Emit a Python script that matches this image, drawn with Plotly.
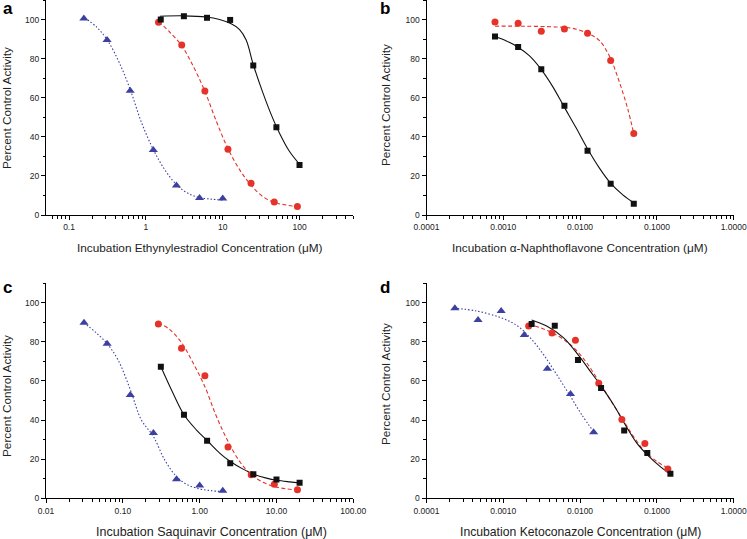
import plotly.graph_objects as go

# ---------------- Panel a: Ethynylestradiol ----------------
a_sq_x = [1.5625, 3.125, 6.25, 12.5, 25, 50, 100]
a_sq_y = [100.0, 101.7, 100.9, 99.8, 76.5, 44.9, 25.6]
a_ci_x = [1.46, 2.93, 5.86, 11.7, 23.4, 46.9, 93.8]
a_ci_y = [98.6, 87.0, 63.5, 33.6, 16.3, 6.7, 4.3]
a_tr_x = [0.156, 0.3125, 0.625, 1.25, 2.5, 5, 10]
a_tr_y = [100.5, 89.5, 63.6, 33.3, 15.1, 8.7, 8.4]
a_fit_sq_x = [1.52, 3.05, 6.12, 9.1, 12.9, 16.6, 20.2, 25.2, 33.3, 42.7, 54.7, 73.8, 99.4]
a_fit_sq_y = [101.7, 101.9, 101.3, 100.0, 97.8, 94.9, 89.5, 76.5, 62.6, 51.5, 42.0, 32.6, 26.1]
a_fit_ci_x = [1.47, 2.05, 2.93, 4.11, 5.83, 8.25, 11.6, 16.6, 23.2, 33.3, 46.2, 66.8, 92.7]
a_fit_ci_y = [99.0, 93.5, 86.6, 76.3, 63.5, 48.0, 34.3, 23.2, 15.4, 9.4, 6.5, 5.1, 4.3]
a_fit_tr_x = [0.16, 0.229, 0.315, 0.46, 0.633, 0.879, 1.257, 1.76, 2.52, 3.54, 5.02, 7.11, 10.07]
a_fit_tr_y = [100.9, 96.1, 89.5, 77.2, 63.6, 47.2, 33.3, 23.2, 15.4, 11.1, 8.9, 8.1, 7.7]
a_tickvals = [0.1, 1, 10, 100]
a_ticktext = ["0.1", "1", "10", "100"]

# ---------------- Panel b: alpha-Naphthoflavone ----------------
b_sq_x = [0.00078, 0.00156, 0.003125, 0.00625, 0.0125, 0.025, 0.05]
b_sq_y = [91.3, 85.9, 74.6, 55.9, 32.9, 16.0, 5.8]
b_ci_x = [0.00078, 0.00156, 0.003125, 0.00625, 0.0125, 0.025, 0.05]
b_ci_y = [98.8, 98.1, 94.0, 95.2, 93.0, 79.1, 41.7]
b_fit_sq_x = [0.00078, 0.00108, 0.00152, 0.00218, 0.00304, 0.0044, 0.00612, 0.00887, 0.01233, 0.01786, 0.0246, 0.036, 0.0497]
b_fit_sq_y = [91.3, 89.2, 86.1, 81.5, 75.0, 65.7, 55.7, 44.6, 34.3, 24.0, 16.6, 10.3, 6.3]
b_fit_ci_x = [0.00078, 0.00179, 0.00487, 0.008, 0.0132, 0.0179, 0.0246, 0.0326, 0.0419, 0.0497]
b_fit_ci_y = [96.6, 96.6, 96.2, 95.5, 92.6, 89.2, 80.6, 67.8, 54.0, 42.0]
b_tickvals = [0.0001, 0.001, 0.01, 0.1, 1]
b_ticktext = ["0.0001", "0.0010", "0.0100", "0.1000", "1.0000"]

# ---------------- Panel c: Saquinavir ----------------
c_tr_x = [0.03125, 0.0625, 0.125, 0.25, 0.5, 1, 2]
c_tr_y = [89.7, 79.0, 52.8, 33.3, 9.7, 6.5, 3.8]
c_ci_x = [0.29, 0.58, 1.17, 2.34, 4.69, 9.38, 18.75]
c_ci_y = [89.1, 76.6, 62.6, 26.2, 12.0, 7.2, 4.4]
c_sq_x = [0.3125, 0.625, 1.25, 2.5, 5, 10, 20]
c_sq_y = [67.2, 42.7, 29.4, 17.9, 12.3, 9.6, 7.9]
c_fit_tr_x = [0.031, 0.0449, 0.0625, 0.0861, 0.125, 0.1734, 0.25, 0.35, 0.5, 0.705, 1.0, 1.42, 2.0]
c_fit_tr_y = [89.7, 84.6, 79.0, 70.9, 55.6, 40.2, 31.6, 19.7, 11.1, 6.8, 4.8, 3.9, 3.4]
c_fit_ci_x = [0.289, 0.406, 0.582, 0.819, 1.162, 1.65, 2.34, 3.32, 4.72, 6.70, 9.42, 13.5, 18.8]
c_fit_ci_y = [89.7, 86.3, 79.5, 69.2, 57.3, 41.9, 29.1, 18.8, 12.0, 8.2, 6.0, 4.8, 4.3]
c_fit_sq_x = [0.313, 0.449, 0.625, 0.905, 1.26, 1.82, 2.51, 3.68, 5.06, 7.41, 10.1, 14.9, 20.1]
c_fit_sq_y = [67.2, 53.8, 42.7, 35.0, 29.4, 23.1, 18.8, 14.9, 12.3, 10.3, 9.2, 8.4, 7.9]
c_tickvals = [0.01, 0.1, 1, 10, 100]
c_ticktext = ["0.01", "0.10", "1.00", "10.00", "100.00"]

# ---------------- Panel d: Ketoconazole ----------------
d_tr_x = [0.000234, 0.000469, 0.000938, 0.001875, 0.00375, 0.0075, 0.015]
d_tr_y = [97.1, 91.1, 95.7, 83.4, 66.2, 53.3, 33.7]
d_ci_x = [0.00214, 0.00431, 0.00869, 0.0175, 0.035, 0.0697, 0.139]
d_ci_y = [88.0, 84.4, 80.7, 58.8, 40.3, 28.0, 15.0]
d_sq_x = [0.00234, 0.00468, 0.00938, 0.01875, 0.0375, 0.075, 0.15]
d_sq_y = [89.1, 88.2, 70.6, 56.4, 34.7, 23.1, 12.6]
d_fit_tr_x = [0.000227, 0.000449, 0.000923, 0.00149, 0.00223, 0.00333, 0.00496, 0.00748, 0.0105, 0.0149]
d_fit_tr_y = [97.1, 95.7, 92.3, 88.4, 82.1, 73.5, 63.2, 52.1, 42.7, 34.2]
d_fit_sq_x = [0.00234, 0.00367, 0.00606, 0.00933, 0.0135, 0.0188, 0.0272, 0.0375, 0.0548, 0.075, 0.1106, 0.149]
d_fit_sq_y = [91.1, 88.0, 82.1, 73.5, 65.0, 57.3, 47.9, 38.5, 28.2, 22.2, 16.2, 12.3]
d_fit_ci_x = [0.00214, 0.003, 0.00431, 0.00606, 0.00869, 0.0122, 0.0175, 0.0246, 0.035, 0.0496, 0.0697, 0.1, 0.139]
d_fit_ci_y = [88.9, 87.2, 84.6, 81.2, 76.1, 69.2, 59.8, 50.4, 41.0, 31.6, 23.9, 18.8, 15.4]
d_tickvals = [0.0001, 0.001, 0.01, 0.1, 1]
d_ticktext = ["0.0001", "0.0010", "0.0100", "0.1000", "1.0000"]

y_tickvals = [0, 20, 40, 60, 80, 100]
y_ticktext = ["0", "20", "40", "60", "80", "100"]

x_titles = [
    "Incubation Ethynylestradiol Concentration (μM)",
    "Incubation α-Naphthoflavone Concentration (μM)",
    "Incubation Saquinavir Concentration (μM)",
    "Incubation Ketoconazole Concentration (μM)",
]
y_title = "Percent Control Activity"
panel_letters = ["a", "b", "c", "d"]

BLACK = "#111111"
RED = "#e5332a"
BLUE = "#3c40a0"
FONT = "Liberation Sans, Arial, sans-serif"
W, H = 747, 539

fig = go.Figure()

def add_fit(x, y, color, dash, ax):
    fig.add_trace(go.Scatter(x=x, y=y, mode="lines", line=dict(color=color, width=1.1, dash=dash, shape="spline", smoothing=1.0),
                             xaxis="x" + ax, yaxis="y" + ax, hoverinfo="skip", showlegend=False))

def add_pts(x, y, color, symbol, size, ax):
    fig.add_trace(go.Scatter(x=x, y=y, mode="markers", marker=dict(color=color, symbol=symbol, size=size, line=dict(width=0)),
                             xaxis="x" + ax, yaxis="y" + ax, showlegend=False))

DASH_RED = "4px,2.5px"
DOT_BLUE = "1.5px,2px"

# a
add_fit(a_fit_tr_x, a_fit_tr_y, BLUE, DOT_BLUE, "")
add_fit(a_fit_ci_x, a_fit_ci_y, RED, DASH_RED, "")
add_fit(a_fit_sq_x, a_fit_sq_y, BLACK, "solid", "")
add_pts(a_tr_x, a_tr_y, BLUE, "triangle-up", 8, "")
add_pts(a_ci_x, a_ci_y, RED, "circle", 7, "")
add_pts(a_sq_x, a_sq_y, BLACK, "square", 6, "")
# b
add_fit(b_fit_ci_x, b_fit_ci_y, RED, DASH_RED, "2")
add_fit(b_fit_sq_x, b_fit_sq_y, BLACK, "solid", "2")
add_pts(b_ci_x, b_ci_y, RED, "circle", 7, "2")
add_pts(b_sq_x, b_sq_y, BLACK, "square", 6, "2")
# c
add_fit(c_fit_tr_x, c_fit_tr_y, BLUE, DOT_BLUE, "3")
add_fit(c_fit_ci_x, c_fit_ci_y, RED, DASH_RED, "3")
add_fit(c_fit_sq_x, c_fit_sq_y, BLACK, "solid", "3")
add_pts(c_tr_x, c_tr_y, BLUE, "triangle-up", 8, "3")
add_pts(c_ci_x, c_ci_y, RED, "circle", 7, "3")
add_pts(c_sq_x, c_sq_y, BLACK, "square", 6, "3")
# d
add_fit(d_fit_tr_x, d_fit_tr_y, BLUE, DOT_BLUE, "4")
add_fit(d_fit_ci_x, d_fit_ci_y, RED, DASH_RED, "4")
add_fit(d_fit_sq_x, d_fit_sq_y, BLACK, "solid", "4")
add_pts(d_tr_x, d_tr_y, BLUE, "triangle-up", 8, "4")
add_pts(d_ci_x, d_ci_y, RED, "circle", 7, "4")
add_pts(d_sq_x, d_sq_y, BLACK, "square", 6, "4")

minor_log = [m * 10 ** e for e in range(-5, 4) for m in range(2, 10)]
tickfont = dict(family=FONT, size=8.5, color="#222")

def xaxis(rng, tv, tt, px0, px1, anchor):
    return dict(type="log", range=rng, domain=[px0 / W, px1 / W], anchor=anchor,
                tickmode="array", tickvals=tv, ticktext=tt, ticks="outside", ticklen=4, tickwidth=1,
                tickcolor="black", showline=True, linecolor="black", linewidth=1, showgrid=False,
                zeroline=False, tickfont=tickfont, automargin=False,
                minor=dict(tickmode="array", tickvals=minor_log, ticks="outside", ticklen=2.5,
                           tickwidth=1, tickcolor="black", showgrid=False))

def yaxis(py0, py1, anchor):
    return dict(range=[0, 110], domain=[1 - py1 / H, 1 - py0 / H], anchor=anchor,
                tickmode="array", tickvals=y_tickvals, ticktext=y_ticktext, ticks="outside", ticklen=4,
                tickwidth=1, tickcolor="black", showline=True, linecolor="black", linewidth=1,
                showgrid=False, zeroline=False, tickfont=tickfont, automargin=False,
                minor=dict(tick0=0, dtick=10, ticks="outside", ticklen=2.5, tickwidth=1,
                           tickcolor="black", showgrid=False))

TOP0, TOP1 = 0, 215
BOT0, BOT1 = 283, 498.3
LX0, LX1 = 46, 353.3
RX0, RX1 = 426.5, 733.7

fig.update_layout(
    width=W, height=H, margin=dict(l=0, r=0, t=0, b=0),
    paper_bgcolor="white", plot_bgcolor="white", showlegend=False,
    xaxis=xaxis([-1.3, 2.7], a_tickvals, a_ticktext, LX0, LX1, "y"),
    yaxis=yaxis(TOP0, TOP1, "x"),
    xaxis2=xaxis([-4, 0], b_tickvals, b_ticktext, RX0, RX1, "y2"),
    yaxis2=yaxis(TOP0, TOP1, "x2"),
    xaxis3=xaxis([-2, 2], c_tickvals, c_ticktext, LX0, LX1, "y3"),
    yaxis3=yaxis(BOT0, BOT1, "x3"),
    xaxis4=xaxis([-4, 0], d_tickvals, d_ticktext, RX0, RX1, "y4"),
    yaxis4=yaxis(BOT0, BOT1, "x4"),
)

ann = []
# panel letters
for letter, (px, py) in zip(panel_letters, [(1, 8), (378, 8), (1, 287), (378, 287)]):
    ann.append(dict(text="<b>" + letter + "</b>", x=px / W, y=1 - py / H, xref="paper", yref="paper",
                    xanchor="left", yanchor="middle", showarrow=False,
                    font=dict(family=FONT, size=17, color="black")))
# x titles
for t, (px, py, fs) in zip(x_titles, [(200, 248, 11.8), (580, 248, 11.8), (212, 532, 12.5), (580, 532, 12.2)]):
    ann.append(dict(text=t, x=px / W, y=1 - py / H, xref="paper", yref="paper",
                    xanchor="center", yanchor="middle", showarrow=False,
                    font=dict(family=FONT, size=fs, color="#222")))
# y titles
for px, py in [(7, 108), (386, 105), (7, 396), (386, 384)]:
    ann.append(dict(text=y_title, x=px / W, y=1 - py / H, xref="paper", yref="paper",
                    xanchor="center", yanchor="middle", showarrow=False, textangle=-90,
                    font=dict(family=FONT, size=11.8, color="#222")))
fig.update_layout(annotations=ann)

fig.write_html("out.html", config={"displayModeBar": False, "staticPlot": True},
               post_script="document.body.style.margin='0';document.body.style.overflow='hidden';")
